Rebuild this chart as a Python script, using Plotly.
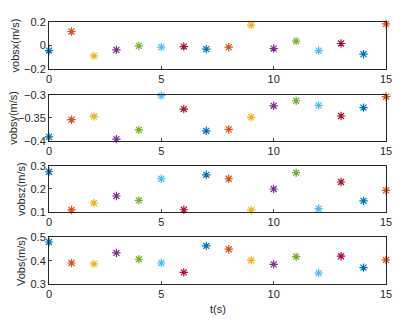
import plotly.graph_objects as go
from plotly.subplots import make_subplots

t = list(range(16))
vobsx = [-0.043, 0.119, -0.088, -0.037, -0.003, -0.014, -0.009, -0.031,
         -0.014, 0.173, -0.026, 0.037, -0.043, 0.017, -0.074, 0.184]
vobsy = [-0.391, -0.354, -0.347, -0.396, -0.376, -0.302, -0.331, -0.378,
         -0.375, -0.349, -0.324, -0.313, -0.323, -0.346, -0.328, -0.304]
vobsz = [0.274, 0.110, 0.140, 0.170, 0.151, 0.244, 0.111, 0.261,
         0.244, 0.109, 0.200, 0.270, 0.116, 0.230, 0.149, 0.194]
vobs = [0.480, 0.390, 0.386, 0.433, 0.406, 0.390, 0.350, 0.463,
        0.449, 0.401, 0.384, 0.417, 0.347, 0.419, 0.370, 0.403]

series = [
    ("vobsx(m/s)", vobsx, [-0.2, 0.2], [-0.2, 0, 0.2]),
    ("vobsy(m/s)", vobsy, [-0.4, -0.3], [-0.4, -0.35, -0.3]),
    ("vobsz(m/s)", vobsz, [0.1, 0.3], [0.1, 0.2, 0.3]),
    ("Vobs(m/s)", vobs, [0.3, 0.5], [0.3, 0.4, 0.5]),
]

# matlab default colour order, cycling per point
palette = ["#0072BD", "#D95319", "#EDB120", "#7E2F8E", "#77AC30", "#4DBEEE", "#A2142F"]
colors = [palette[i % len(palette)] for i in range(len(t))]

domains = [(0.8206, 1.0), (0.5458, 0.7225), (0.2737, 0.4515), (0.0, 0.1782)]
# y-title centres, in paper units (left of the axes)
title_x = [-0.101, -0.107, -0.083, -0.085]

ink = "#262626"
fig = make_subplots(rows=4, cols=1)

for i, (label, vals, yr, ticks) in enumerate(series):
    row = i + 1
    fig.add_trace(
        go.Scatter(
            x=t,
            y=vals,
            mode="markers",
            marker=dict(symbol="asterisk-open", size=7, color=colors,
                        line=dict(color=colors, width=1.2)),
            cliponaxis=False,
            showlegend=False,
        ),
        row=row, col=1,
    )
    fig.update_xaxes(
        range=[0, 15], tickvals=[0, 5, 10, 15], ticks="inside", ticklen=3,
        showline=True, mirror=True, linecolor=ink, linewidth=1,
        showgrid=False, zeroline=False, tickfont=dict(size=11, color=ink),
        automargin=False, row=row, col=1,
    )
    fig.update_yaxes(
        range=yr, tickvals=ticks, ticks="inside", ticklen=3,
        showline=True, mirror=True, linecolor=ink, linewidth=1,
        showgrid=False, zeroline=False, tickfont=dict(size=11, color=ink),
        domain=list(domains[i]), automargin=False,
        row=row, col=1,
    )
    lo, hi = domains[i]
    fig.add_annotation(
        text=label, xref="paper", yref="paper", x=title_x[i], y=(lo + hi) / 2,
        textangle=-90, showarrow=False, xanchor="center", yanchor="middle",
        font=dict(size=11, color=ink),
    )

fig.add_annotation(
    text="t(s)", xref="paper", yref="paper", x=0.5, y=-0.095,
    showarrow=False, xanchor="center", yanchor="middle",
    font=dict(size=11, color=ink),
)

# page body adds an 8px offset, so the figure is shrunk by that much
fig.update_layout(
    width=396,
    height=322,
    margin=dict(l=41, r=18, t=14, b=46, pad=0),
    font=dict(family="Liberation Sans, Arial", size=11, color=ink),
    plot_bgcolor="white",
    paper_bgcolor="white",
)

fig.write_html("out.html")
